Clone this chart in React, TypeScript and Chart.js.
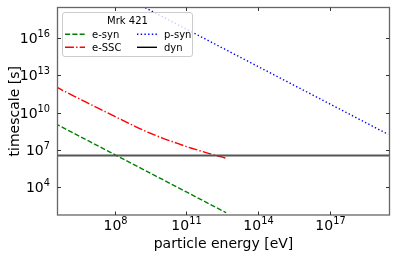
import React, { useEffect, useRef } from 'react';
import { Chart, registerables } from 'chart.js';

Chart.register(...registerables);

// ---- data ----
const eSynEnergy = [3.2e5, 1e6, 1e7, 1e8, 1e9, 1e10, 1e11, 1e12, 4.6e12];
const eSynTime = [1.3e9, 4.2e8, 4.2e7, 4.2e6, 4.2e5, 4.2e4, 4.2e3, 4.2e2, 9.1e1];

const eSscEnergy = [3.2e5, 1e6, 3.2e6, 1e7, 3.2e7, 1e8, 3.2e8, 1e9, 3.2e9, 1e10, 3.2e10, 1e11, 3.2e11, 1e12, 3.2e12, 4.3e12];
const eSscTime = [1.26e12, 4.0e11, 1.32e11, 4.4e10, 1.45e10, 4.9e9, 1.66e9, 5.6e8, 2.1e8, 8.9e7, 4.0e7, 1.86e7, 9.3e6, 4.8e6, 2.6e6, 2.2e6];

const pSynEnergy = [1e9, 1e10, 1e11, 1e12, 1e13, 1e14, 1e15, 1e16, 1e17, 1e18, 1e19, 2.8e19];
const pSynTime = [5.0e18, 5.0e17, 5.0e16, 5.0e15, 5.0e14, 5.0e13, 5.0e12, 5.0e11, 5.0e10, 5.0e9, 5.0e8, 1.8e8];

const dynEnergy = [1e5, 1e20];
const dynTime = [3.55e6, 3.55e6];

const xTickExponents = [8, 11, 14, 17];
const yTickExponents = [4, 7, 10, 13, 16];

const xRange = [4.0e5, 3.2e19];
const yRange = [59, 2.75e18];

const legendTitle = 'Mrk 421';
const xTitle = 'particle energy [eV]';
const yTitle = 'timescale [s]';

const FONT = '"DejaVu Sans", sans-serif';

const toPoints = (xs: number[], ys: number[]) => xs.map((x, i) => ({ x, y: ys[i] }));

const legendItems = [
  { label: 'e-syn', color: '#008000', dash: [5.1, 2.2], col: 0, row: 0 },
  { label: 'e-SSC', color: '#ff0000', dash: [8.9, 2.2, 1.4, 2.2], col: 0, row: 1 },
  { label: 'p-syn', color: '#0000ff', dash: [1.4, 2.3], col: 1, row: 0 },
  { label: 'dyn', color: '#000000', dash: [], col: 1, row: 1 },
];

function drawPower(ctx: CanvasRenderingContext2D, exp: number, x: number, baseY: number, align: 'center' | 'right') {
  ctx.font = `14px ${FONT}`;
  const w10 = ctx.measureText('10').width;
  ctx.font = `9.8px ${FONT}`;
  const wE = ctx.measureText(String(exp)).width;
  const total = w10 + wE;
  const start = align === 'center' ? x - total / 2 : x - total;
  ctx.textAlign = 'left';
  ctx.textBaseline = 'alphabetic';
  ctx.font = `14px ${FONT}`;
  ctx.fillText('10', start, baseY);
  ctx.font = `9.8px ${FONT}`;
  ctx.fillText(String(exp), start + w10, baseY - 5.8);
}

const decorPlugin = {
  id: 'decor',
  afterDatasetsDraw(chart: any) {
    const ctx: CanvasRenderingContext2D = chart.ctx;
    const { left, right, top, bottom } = chart.chartArea;
    const xs = chart.scales.x;
    const ys = chart.scales.y;
    ctx.save();

    // legend
    const lx = 62.5, ly = 12.5, lw = 130, lh = 44;
    ctx.beginPath();
    const r = 2.5;
    ctx.moveTo(lx + r, ly);
    ctx.lineTo(lx + lw - r, ly);
    ctx.arcTo(lx + lw, ly, lx + lw, ly + r, r);
    ctx.lineTo(lx + lw, ly + lh - r);
    ctx.arcTo(lx + lw, ly + lh, lx + lw - r, ly + lh, r);
    ctx.lineTo(lx + r, ly + lh);
    ctx.arcTo(lx, ly + lh, lx, ly + lh - r, r);
    ctx.lineTo(lx, ly + r);
    ctx.arcTo(lx, ly, lx + r, ly, r);
    ctx.closePath();
    ctx.fillStyle = 'rgba(255,255,255,0.8)';
    ctx.fill();
    ctx.strokeStyle = '#cccccc';
    ctx.lineWidth = 1;
    ctx.stroke();

    ctx.fillStyle = '#000';
    ctx.font = `10px ${FONT}`;
    ctx.textAlign = 'center';
    ctx.textBaseline = 'alphabetic';
    ctx.fillText(legendTitle, 127.5, 23.7);

    const colHandle = [65, 137];
    const rowY = [34.3, 47.3];
    legendItems.forEach((it) => {
      const hx = colHandle[it.col];
      const hy = rowY[it.row];
      ctx.beginPath();
      ctx.setLineDash(it.dash);
      ctx.strokeStyle = it.color;
      ctx.lineWidth = 1.4;
      ctx.moveTo(hx, hy);
      ctx.lineTo(hx + 20, hy);
      ctx.stroke();
      ctx.setLineDash([]);
      ctx.fillStyle = '#000';
      ctx.textAlign = 'left';
      ctx.font = `10px ${FONT}`;
      ctx.fillText(it.label, hx + 27, hy + 3.6);
    });

    // spines
    ctx.strokeStyle = '#666666';
    ctx.lineWidth = 1.3;
    ctx.strokeRect(left, top, right - left, bottom - top);

    // ticks
    ctx.strokeStyle = '#333';
    ctx.lineWidth = 1;
    ctx.fillStyle = '#000';
    xTickExponents.forEach((e) => {
      const px = Math.round(xs.getPixelForValue(Math.pow(10, e))) + 0.5;
      ctx.beginPath();
      ctx.moveTo(px, bottom);
      ctx.lineTo(px, bottom - 3.5);
      ctx.moveTo(px, top);
      ctx.lineTo(px, top + 3.5);
      ctx.stroke();
      drawPower(ctx, e, px, 230, 'center');
    });
    yTickExponents.forEach((e) => {
      const py = Math.round(ys.getPixelForValue(Math.pow(10, e))) + 0.5;
      ctx.beginPath();
      ctx.moveTo(left, py);
      ctx.lineTo(left + 3.5, py);
      ctx.moveTo(right, py);
      ctx.lineTo(right - 3.5, py);
      ctx.stroke();
      drawPower(ctx, e, left - 7.5, py + 4, 'right');
    });

    // axis titles
    ctx.font = `14px ${FONT}`;
    ctx.fillStyle = '#000';
    ctx.textAlign = 'center';
    ctx.textBaseline = 'alphabetic';
    ctx.fillText(xTitle, (left + right) / 2, 248);
    ctx.save();
    ctx.translate(19, (top + bottom) / 2);
    ctx.rotate(-Math.PI / 2);
    ctx.fillText(yTitle, 0, 0);
    ctx.restore();

    ctx.restore();
  },
};

export default function App() {
  const ref = useRef<HTMLCanvasElement>(null);
  useEffect(() => {
    if (!ref.current) return;
    const chart = new Chart(ref.current, {
      type: 'line',
      data: {
        datasets: [
          {
            label: 'dyn',
            data: toPoints(dynEnergy, dynTime),
            borderColor: '#555555',
            borderWidth: 2,
            pointRadius: 0,
            order: 0,
          },
          {
            label: 'e-syn',
            data: toPoints(eSynEnergy, eSynTime),
            borderColor: '#008000',
            borderWidth: 1.4,
            borderDash: [5.1, 2.2],
            pointRadius: 0,
            order: 1,
          },
          {
            label: 'e-SSC',
            data: toPoints(eSscEnergy, eSscTime),
            borderColor: '#ff0000',
            borderWidth: 1.4,
            borderDash: [8.9, 2.2, 1.4, 2.2],
            pointRadius: 0,
            cubicInterpolationMode: 'monotone',
            order: 2,
          },
          {
            label: 'p-syn',
            data: toPoints(pSynEnergy, pSynTime),
            borderColor: '#0000ff',
            borderWidth: 1.4,
            borderDash: [1.4, 2.3],
            pointRadius: 0,
            order: 3,
          },
        ],
      },
      options: {
        animation: false,
        responsive: false,
        devicePixelRatio: 1,
        layout: { padding: { left: 57.5, right: 21.5, top: 7.5, bottom: 42 } },
        plugins: { legend: { display: false }, tooltip: { enabled: false } },
        elements: { line: { tension: 0, fill: false } },
        scales: {
          x: { type: 'logarithmic', min: xRange[0], max: xRange[1], display: false },
          y: { type: 'logarithmic', min: yRange[0], max: yRange[1], display: false },
        },
      },
      plugins: [decorPlugin],
    });
    return () => chart.destroy();
  }, []);
  return (
    <div style={{ position: 'absolute', left: 0, top: 0, width: 411, height: 257, background: '#fff' }}>
      <canvas ref={ref} width={411} height={257} style={{ width: 411, height: 257 }} />
    </div>
  );
}
